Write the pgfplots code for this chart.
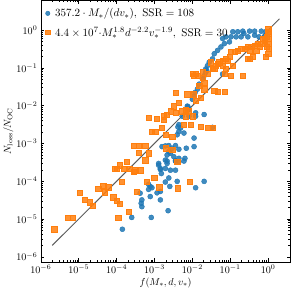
\documentclass[border=0pt]{standalone}
\usepackage{pgfplots}
\usepackage{pgfplotstable}
\pgfplotsset{compat=1.18}
\definecolor{mblue}{HTML}{1F77B4}
\definecolor{morange}{HTML}{FF7F0E}
\pgfplotstableread{
x y
0.117 0.906
0.158 0.906
0.215 0.94
0.325 0.94
0.442 0.94
0.663 0.94
0.885 0.92
0.105 0.665
0.143 0.665
0.194 0.665
0.293 0.665
0.442 0.734
0.575 0.665
0.229 0.816
0.832 0.721
0.063 0.599
0.0773 0.665
0.070 0.44
0.0953 0.489
0.0569 0.359
0.0464 0.291
0.0379 0.237
0.0341 0.174
0.0279 0.142
0.0251 0.115
0.0226 0.094
0.817 0.489
0.0240 0.086
0.0226 0.0767
0.0205 0.0622
0.0185 0.0507
0.0151 0.0372
0.0136 0.0274
0.0118 0.0223
0.0111 0.0181
0.01 0.0148
0.00736 0.00975
0.00816 0.00796
0.0122 0.00649
0.0205 0.00585
0.063 0.069
0.0054 0.00526
0.00816 0.00526
0.0122 0.00526
0.00442 0.00315
0.00488 0.00257
0.00442 0.00208
0.00398 0.0017
0.00601 0.00189
0.0111 0.00139
0.00239 0.00088
0.00359 0.00088
0.00293 0.000748
0.00442 0.000703
0.00692 0.000748
0.00158 0.000826
0.00215 0.000494
0.00264 0.000549
0.00325 0.000446
0.00129 0.000296
0.00215 0.000296
0.00442 0.000327
0.00143 0.000218
0.00194 0.000218
0.00215 0.000342
0.00359 0.000342
0.00601 0.000342
0.00129 0.000267
0.00143 0.000205
0.00152 0.00016
0.00264 0.000196
0.00359 0.000196
0.00239 0.000122
0.00194 0.0000953
0.00398 0.0000993
0.0205 0.0000993
0.0007 0.0000826
0.000773 0.000073
0.000858 0.0000673
0.0007 0.0000607
0.000418 0.0000483
0.00117 0.0000494
0.00143 0.0000536
0.00254 0.000073
0.0122 0.0000673
0.000773 0.0000394
0.000464 0.0000321
0.00143 0.0000321
0.000445 0.0000261
0.000464 0.0000212
0.00229 0.0000166
0.000251 0.000011
0.000822 0.000011
0.000142 0.00000536
0.00194 0.000863
0.0111 0.000826
0.00239 0.000607
0.00442 0.000404
0.00194 0.000363
0.00359 0.000348
0.00638 0.000404
0.0341 0.00267
0.00767 0.0094
0.00416 0.00274
}\bluedata
\pgfplotstableread{
x y
1.0 1.11
1.0 0.816
0.901 0.665
1.06 0.599
0.817 0.539
1.0 0.44
0.901 0.359
1.06 0.323
0.663 0.44
0.541 0.44
0.442 0.396
0.359 0.359
0.293 0.359
0.239 0.323
0.194 0.323
0.158 0.291
0.129 0.264
0.105 0.264
0.601 0.359
0.488 0.291
0.325 0.291
0.398 0.194
0.293 0.174
0.0773 0.174
0.0953 0.194
0.063 0.157
0.0515 0.142
0.0418 0.115
0.063 0.115
0.0773 0.094
0.0379 0.094
0.0251 0.069
0.0122 0.069
0.01 0.069
0.0185 0.0767
0.325 0.174
1.0 0.237
0.885 0.197
1.06 0.92
0.736 0.599
0.0308 0.142
0.0464 0.128
0.0858 0.157
0.117 0.115
0.0341 0.094
0.070 0.069
0.105 0.0622
0.215 0.0622
0.0111 0.0622
0.0136 0.0622
0.0185 0.0563
0.0205 0.0414
0.0151 0.0335
0.0205 0.0274
0.0379 0.0246
0.0464 0.0237
0.070 0.0237
0.00359 0.0223
0.00736 0.0201
0.0111 0.0201
0.0166 0.0164
0.0122 0.0133
0.00442 0.012
0.00325 0.00975
0.00215 0.00585
0.00264 0.00716
0.00176 0.00526
0.00662 0.00796
0.00816 0.00716
0.01 0.00526
0.00662 0.00526
0.00117 0.00448
0.00176 0.0043
0.00359 0.00649
0.0054 0.00716
0.00601 0.00315
0.00902 0.00315
0.0166 0.00284
0.0251 0.00257
0.0341 0.00257
0.000858 0.00208
0.00105 0.00208
0.00158 0.00257
0.00194 0.0017
0.00293 0.00153
0.000279 0.00088
0.000379 0.00088
0.000569 0.000863
0.000379 0.00057
0.0007 0.000549
0.00194 0.000748
0.00293 0.000674
0.000185 0.000327
0.000122 0.000267
0.0001 0.000218
0.000569 0.000363
0.00398 0.000327
0.0000902 0.000218
0.000151 0.000218
0.000226 0.000218
0.000279 0.000177
0.000136 0.0000953
0.0000325 0.0000634
0.0000442 0.0000776
0.0000601 0.00007
0.0000488 0.0000513
0.0000105 0.0000494
0.0000143 0.0000321
0.0000194 0.0000277
0.0000239 0.0000226
0.0000816 0.0000377
0.0001 0.0000308
0.000122 0.0000251
0.000205 0.0000159
0.000111 0.0000106
0.00000515 0.0000106
0.000007 0.0000106
0.00000226 0.00000536
0.000341 0.0000536
0.000631 0.0000993
0.000989 0.000122
0.00134 0.00007
0.00416 0.0000658
0.00869 0.0000993
0.000308 0.000196
0.000418 0.000196
0.0007 0.00476
}\orangedata
\begin{document}
\begin{tikzpicture}
\begin{axis}[
  scale only axis,
  width=247pt, height=259pt,
  xmode=log, ymode=log,
  xmin=1e-6, xmax=3.86,
  ymin=7.35e-7, ymax=6.17,
  xtick={1e-6,1e-5,1e-4,1e-3,1e-2,1e-1,1},
  ytick={1e-6,1e-5,1e-4,1e-3,1e-2,1e-1,1},
  tick align=inside,
  xtick pos=both, ytick pos=both,
  major tick length=3.5pt, minor tick length=2pt,
  tick style={black, line width=0.5pt},
  axis line style={line width=0.6pt},
  tick label style={font=\normalsize},
  xlabel={$f(M_*, d, v_*)$},
  ylabel={$N_{\rm loss}/N_{\rm OC}$},
  xlabel style={yshift=3pt},
  ylabel style={yshift=-4pt},
  legend style={at={(0.01,0.985)}, anchor=north west, draw=none, fill=none, font=\fontsize{10.8}{12.5}\selectfont, row sep=4.5pt, column sep=3pt, inner sep=2pt},
  legend cell align=left,
  legend image post style={mark size=2.2pt},
]
\addplot[only marks, mark=*, mark size=2.5pt, mblue, mark options={draw=none, fill=mblue, fill opacity=0.85}] table {\bluedata};
\addlegendentry{$357.2\cdot M_*/(dv_*),\ \mathrm{SSR}=108$}
\addplot[only marks, mark=square*, mark size=2.6pt, morange, mark options={draw=none, fill=morange, fill opacity=0.85}] table {\orangedata};
\addlegendentry{$4.4\times10^7{\cdot}M_*^{1.8}d^{-2.2}v_*^{-1.9},\ \mathrm{SSR}=30$}
\addplot[black!75, line width=1pt, opacity=0.85, forget plot] coordinates {(2e-6,2e-6) (2,2)};
\end{axis}
\end{tikzpicture}
\end{document}
